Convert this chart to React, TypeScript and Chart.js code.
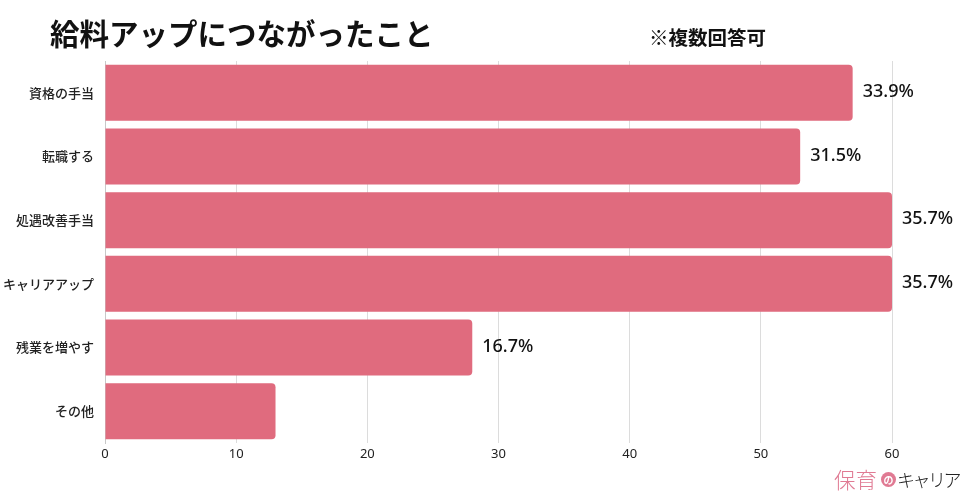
import React, { useEffect, useRef } from "react";
import { Chart, registerables } from "chart.js";
Chart.register(...registerables);

const categories = ["資格の手当", "転職する", "処遇改善手当", "キャリアアップ", "残業を増やす", "その他"];
const counts = [57, 53, 60, 60, 28, 13];
const percentLabels = ["33.9%", "31.5%", "35.7%", "35.7%", "16.7%", ""];
const xMin = 0;
const xMax = 60;
const xStep = 10;

const BAR_COLOR = "#E06B7E";

const valueLabelPlugin = {
  id: "valueLabels",
  afterDatasetsDraw(chart: any) {
    const ctx = chart.ctx;
    const meta = chart.getDatasetMeta(0);
    ctx.save();
    ctx.font = '500 18px "Noto Sans", sans-serif';
    ctx.fillStyle = "#111";
    ctx.textAlign = "left";
    ctx.textBaseline = "middle";
    meta.data.forEach((bar: any, i: number) => {
      const t = percentLabels[i];
      if (t) ctx.fillText(t, bar.x + 10, bar.y - 1);
    });
    ctx.restore();
  },
};

export default function App() {
  const ref = useRef<HTMLCanvasElement | null>(null);
  useEffect(() => {
    document.body.style.margin = "0";
    const chart = new Chart(ref.current as HTMLCanvasElement, {
      type: "bar",
      data: {
        labels: categories,
        datasets: [
          {
            data: counts,
            backgroundColor: BAR_COLOR,
            borderRadius: 4,
            borderSkipped: "start",
            categoryPercentage: 1,
            barPercentage: 0.88,
          },
        ],
      },
      options: {
        indexAxis: "y",
        responsive: false,
        animation: false,
        layout: { padding: { top: 61, right: 68, bottom: 0, left: 0 } },
        plugins: {
          legend: { display: false },
          tooltip: { enabled: false },
          title: { display: false },
        },
        scales: {
          x: {
            min: xMin,
            max: xMax,
            ticks: {
              stepSize: xStep,
              color: "#222",
              padding: 3,
              font: { family: '"Noto Sans", sans-serif', size: 13 },
            },
            grid: { color: "#dcdcdc", drawTicks: false },
            border: { display: false },
            afterFit: (s: any) => {
              s.height = 57;
            },
          },
          y: {
            ticks: {
              color: "#222",
              padding: 3,
              autoSkip: false,
              font: { family: '"Noto Sans CJK JP", sans-serif', size: 13, weight: 500 },
            },
            grid: { display: false },
            border: { display: true, color: "#c8c8c8" },
            afterFit: (s: any) => {
              s.width = 105;
            },
          },
        },
      },
      plugins: [valueLabelPlugin],
    } as any);
    return () => chart.destroy();
  }, []);

  return (
    <div style={{ position: "relative", width: 960, height: 500, background: "#fff", overflow: "hidden" }}>
      <canvas ref={ref} width={960} height={500} style={{ display: "block" }} />
      <div
        style={{
          position: "absolute",
          left: 50,
          top: 12,
          fontFamily: '"Noto Sans CJK JP", sans-serif',
          fontWeight: 700,
          fontSize: 29.5,
          lineHeight: "40px",
          color: "#111",
          whiteSpace: "nowrap",
        }}
      >
        給料アップにつながったこと
      </div>
      <div
        style={{
          position: "absolute",
          left: 649,
          top: 24,
          fontFamily: '"Noto Sans CJK JP", sans-serif',
          fontWeight: 700,
          fontSize: 19.5,
          lineHeight: "26px",
          color: "#111",
          whiteSpace: "nowrap",
        }}
      >
        ※複数回答可
      </div>
      <div
        style={{
          position: "absolute",
          left: 834,
          top: 465,
          display: "flex",
          alignItems: "center",
          fontFamily: '"Noto Sans CJK JP", sans-serif',
          fontWeight: 300,
          whiteSpace: "nowrap",
        }}
      >
        <span style={{ color: "#E07A93", fontSize: 21.5, lineHeight: "28px" }}>保育</span>
        <span
          style={{
            display: "inline-block",
            width: 15,
            height: 15,
            borderRadius: "50%",
            background: "#E07A93",
            color: "#fff",
            fontSize: 10,
            lineHeight: "15px",
            textAlign: "center",
            fontWeight: 700,
            margin: "0 1px 0 4px",
          }}
        >
          の
        </span>
        <span style={{ color: "#222", fontSize: 18, lineHeight: "28px", letterSpacing: -2.5 }}>キャリア</span>
      </div>
    </div>
  );
}
